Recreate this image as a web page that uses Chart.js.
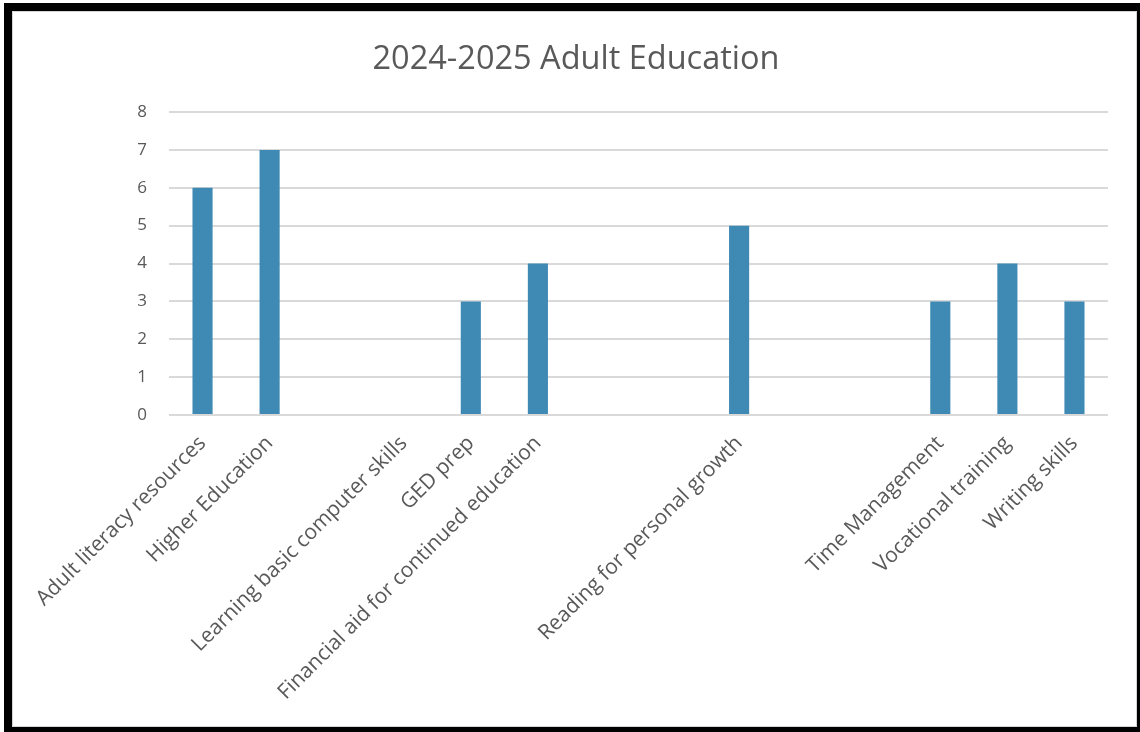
<!DOCTYPE html>
<html>
<head>
<meta charset="utf-8">
<script src="https://cdn.jsdelivr.net/npm/chart.js@4"></script>
<style>
  html, body { margin: 0; padding: 0; background: #fff; }
  body { width: 1140px; height: 732px; position: relative; overflow: hidden; }
  .frame { position: absolute; left: 4px; top: 3px; width: 1136px; height: 729px; background: #000; }
  .card  { position: absolute; left: 12px; top: 11px; width: 1123px; height: 714px;
           background: #fff; border: 1px solid #d4d4d4; }
  .card canvas { display: block; }
</style>
</head>
<body>
<div class="frame"></div>
<div class="card"><canvas id="chart" width="1123" height="714"></canvas></div>
<script>
// ── Data ──
const TITLE = '2024-2025 Adult Education';
const categories = [
  'Adult literacy resources', 'Higher Education', '', 'Learning basic computer skills',
  'GED prep', 'Financial aid for continued education', '', '',
  'Reading for personal growth', '', '', 'Time Management',
  'Vocational training', 'Writing skills'
];
const counts = [6, 7, null, 0, 3, 4, null, null, 5, null, null, 3, 4, 3];
const yTicks = [0, 1, 2, 3, 4, 5, 6, 7, 8];

// ── Styling ──
const TEXT = '#595959';
const GRID = '#d9d9d9';
const BAR  = '#3f8ab5';
const FONT = "'Open Sans', sans-serif";

const ctx = document.getElementById('chart').getContext('2d');
new Chart(ctx, {
  type: 'bar',
  data: {
    labels: categories,
    datasets: [{
      data: counts,
      backgroundColor: BAR,
      borderWidth: 0,
      categoryPercentage: 1,
      barPercentage: 0.3
    }]
  },
  options: {
    responsive: false,
    animation: false,
    // symmetric side padding keeps the title centred on the card
    layout: { padding: { left: 31, right: 28, top: 0, bottom: 0 } },
    plugins: {
      legend: { display: false },
      tooltip: { enabled: false },
      title: {
        display: true, text: TITLE, color: TEXT,
        font: { family: FONT, size: 32.5, weight: 'normal' },
        padding: { top: 28, bottom: 33 }
      }
    },
    scales: {
      x: {
        grid: { display: false, drawTicks: false },
        border: { display: false },
        ticks: {
          color: TEXT, font: { family: FONT, size: 21 },
          autoSkip: false, minRotation: 45, maxRotation: 45, padding: 16
        },
        afterFit: s => { s.height = 311; }
      },
      y: {
        min: 0, max: 8,
        afterBuildTicks: s => { s.ticks = yTicks.map(v => ({ value: v })); },
        grid: { color: GRID, lineWidth: 2, drawTicks: false },
        border: { display: false },
        ticks: { color: TEXT, font: { family: FONT, size: 17 }, padding: 22 },
        afterFit: s => { s.width = 125; }
      }
    }
  }
});
</script>
</body>
</html>
